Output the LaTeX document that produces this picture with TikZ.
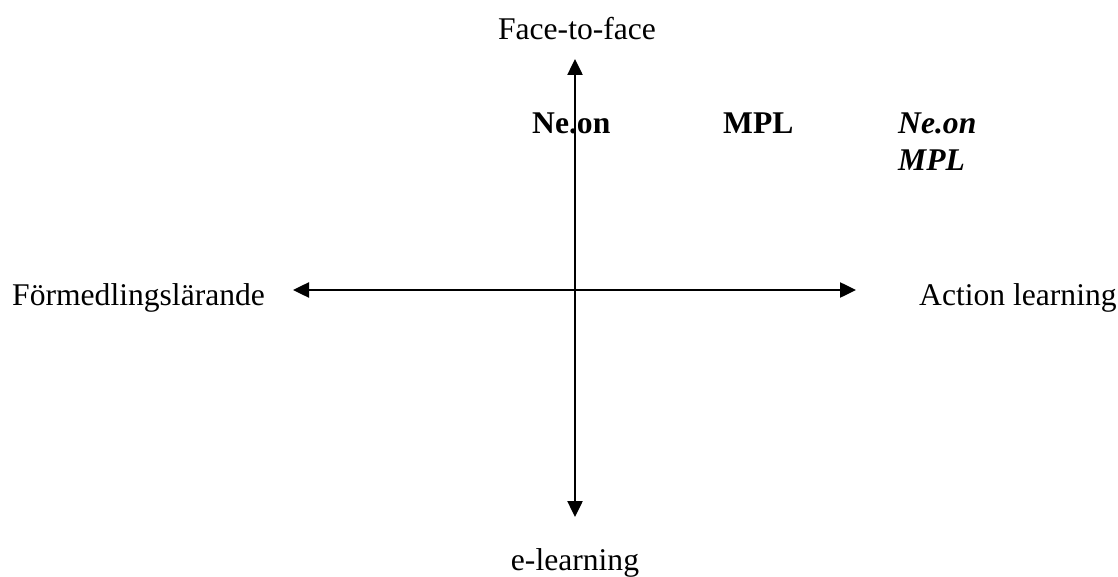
\documentclass[tikz,border=0pt]{standalone}
\usepackage{fontspec}
\setmainfont{Liberation Serif}
\usetikzlibrary{arrows.meta}

\begin{document}
\begin{tikzpicture}[x=1pt,y=-1pt,
  axis/.style={<->,>={Triangle[length=16pt,width=15pt]},line width=2.5pt},
  lbl/.style={inner sep=0pt,anchor=base west,font=\fontsize{31.6}{37}\selectfont}]
\useasboundingbox (0,0) rectangle (1118,577);
\coordinate (N) at (575,59); \coordinate (S) at (575,517);
\coordinate (W) at (293,290); \coordinate (E) at (856,290);
\draw[axis] (W)--(E);
\draw[axis] (S)--(N);
\node[lbl,anchor=base] (face) at (577,40) {Face-to-face};
\node[lbl,anchor=base] (elearn) at (575,570) {e-learning};
\node[lbl] (formed) at (12,305) {Förmedlingslärande};
\node[lbl] (action) at (919,305) {Action learning};
\node[lbl,font=\fontsize{31.6}{37}\selectfont\bfseries] (neon) at (532,134) {Ne.on};
\node[lbl,font=\fontsize{31.6}{37}\selectfont\bfseries] (mpl) at (723,134) {MPL};
\node[lbl,font=\fontsize{31.6}{37}\selectfont\bfseries\itshape] (neonit) at (898,134) {Ne.on};
\node[lbl,font=\fontsize{31.6}{37}\selectfont\bfseries\itshape] (mplit) at (898,171) {MPL};
\end{tikzpicture}
\end{document}
